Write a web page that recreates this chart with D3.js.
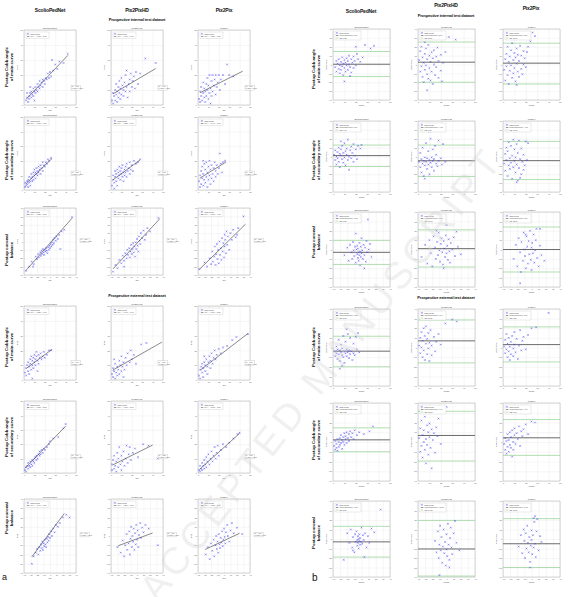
<!DOCTYPE html>
<html lang="en">
<head>
<meta charset="UTF-8">
<title>Postoperative prediction agreement</title>
<script src="https://cdn.jsdelivr.net/npm/d3@7"></script>
<style>
  body { margin: 0; background: #fff; }
  svg { font-family: "Liberation Sans", Arial, sans-serif; }
</style>
</head>
<body>
<script>
const width = 568, height = 597;

// ---------- labels ----------
const models = ["ScolioPedNet", "Pix2PixHD", "Pix2Pix"];
const datasetTitles = ["Prospective internal test dataset", "Prospective external test dataset"];
const rowLabels = [
  ["Postop Cobb angle", "of main curve"],
  ["Postop Cobb angle", "of secondary curve"],
  ["Postop coronal", "balance"],
  ["Postop Cobb angle", "of main curve"],
  ["Postop Cobb angle", "of secondary curve"],
  ["Postop coronal", "balance"]
];
const rowKind = ["angle", "angle", "balance", "angle", "angle", "balance"];
const angleTicks = [0, 10, 20, 30, 40, 50];
const balanceTicks = [-40, -30, -20, -10, 0, 10, 20, 30, 40];
const diffTicks = [-40, -30, -20, -10, 0, 10, 20, 30, 40];

// ---------- panel a: predicted vs actual (flat x,y pairs) ----------
const intMainSP = [2,3, 3,5, 4,2, 5,6, 5,4, 6,8, 7,5, 7,9, 8,7, 9,6, 9,11, 10,9, 11,8, 11,12, 12,10, 13,14, 13,9, 14,12, 15,11, 15,16, 16,13, 17,15, 18,12, 18,17, 19,16, 20,14, 21,18, 22,17, 23,21, 24,18, 25,22, 26,19, 27,30, 28,23, 30,27, 32,24, 34,29, 38,28, 42,34, 6,12, 10,3, 3,8];
const intMainHD = [1,3, 2,8, 2,1, 3,6, 4,10, 4,3, 5,7, 5,14, 6,2, 6,9, 7,5, 7,12, 8,8, 8,16, 9,4, 9,11, 10,7, 10,18, 11,13, 12,6, 12,10, 13,15, 14,9, 14,20, 15,12, 16,5, 17,14, 18,17, 18,9, 19,21, 20,12, 21,16, 22,19, 23,11, 24,22, 26,14, 28,21, 33,31, 43,28, 15,23];
const intMainPP = [1,4, 2,9, 2,2, 3,6, 3,12, 4,3, 5,8, 5,15, 6,5, 6,11, 7,2, 7,9, 8,14, 8,6, 9,18, 9,10, 10,4, 10,13, 11,8, 11,20, 12,11, 13,16, 13,6, 14,20, 14,9, 15,13, 16,17, 17,7, 17,20, 18,12, 19,15, 20,20, 21,10, 22,17, 24,20, 26,14, 28,27, 30,20, 34,19, 12,1];
const intSecSP = [1,2, 1,5, 2,3, 3,6, 3,4, 4,7, 4,2, 5,5, 5,9, 6,6, 6,3, 7,8, 7,11, 8,6, 8,9, 9,12, 9,7, 10,10, 10,14, 11,8, 11,12, 12,11, 12,15, 13,10, 13,13, 14,16, 14,12, 15,14, 16,11, 16,17, 17,15, 18,13, 18,19, 19,17, 20,16, 21,19, 22,18, 23,21, 24,20, 26,22];
const intSecHD = [1,3, 2,7, 2,10, 3,5, 4,9, 4,13, 5,6, 5,11, 6,3, 6,14, 7,8, 7,12, 8,10, 8,16, 9,7, 9,13, 10,11, 10,15, 11,9, 11,17, 12,12, 12,6, 13,14, 13,10, 14,16, 14,12, 15,9, 15,18, 16,13, 17,15, 18,11, 18,19, 19,14, 20,17, 21,13, 22,20, 24,18, 26,19, 28,21, 3,1];
const intSecPP = [1,6, 2,2, 2,10, 3,4, 3,13, 4,8, 4,16, 5,3, 5,11, 6,7, 6,18, 7,5, 7,14, 8,9, 8,19, 9,2, 9,12, 10,7, 10,16, 11,10, 11,20, 12,4, 12,14, 13,8, 13,17, 14,11, 15,6, 15,15, 16,19, 17,9, 17,13, 18,17, 19,11, 20,15, 21,25, 22,18, 23,12, 24,19, 26,20, 5,20];
const intBalSP = [-37,-35, -32,-30, -28,-24, -25,-27, -22,-18, -20,-21, -18,-15, -17,-19, -15,-13, -14,-17, -13,-11, -12,-15, -11,-9, -10,-13, -9,-16, -8,-10, -7,-12, -6,-8, -5,-11, -4,-14, -3,-7, -2,-10, -1,-5, 0,-8, 1,-3, 2,-6, 3,-1, 4,-4, 5,2, 6,-2, 7,4, 9,1, 10,6, 12,3, 14,8, 16,-9, 18,12, 22,14, 34,29, -26,-30];
const intBalHD = [-37,-36, -33,-28, -30,-32, -27,-22, -24,-26, -22,-17, -20,-23, -18,-14, -16,-20, -15,-10, -14,-16, -12,-8, -11,-19, -10,-12, -9,-4, -8,-15, -7,-9, -6,-2, -5,-13, -4,-6, -3,-18, -2,-1, -1,-9, 0,3, 1,-5, 2,-12, 3,6, 4,1, 5,-3, 6,10, 8,4, 10,13, 12,2, 14,8, 16,16, 20,12, 33,28, -20,-30];
const intBalPP = [-38,-33, -30,-25, -26,-30, -22,-20, -20,-27, -18,-12, -17,-24, -15,-18, -14,-6, -13,-28, -12,-15, -11,-3, -10,-21, -9,-10, -8,-26, -7,0, -6,-16, -5,-8, -4,-22, -3,4, -2,-12, -1,-2, 0,-19, 1,8, 1,-6, 2,2, 3,-14, 4,12, 5,-4, 6,6, 8,-10, 10,10, 12,2, 14,14, 18,5, 20,8, 30,30, 22,16];
const extMainSP = [1,5, 2,8, 2,3, 3,10, 4,6, 4,12, 5,9, 5,4, 6,11, 6,14, 7,7, 7,16, 8,10, 8,13, 9,15, 9,8, 10,12, 10,17, 11,14, 11,10, 12,16, 12,19, 13,13, 14,17, 14,11, 15,15, 16,18, 17,14, 18,16, 19,19, 20,15, 22,17, 24,20, 26,20, 8,1, 13,6];
const extMainHD = [1,4, 2,8, 2,2, 3,6, 4,11, 4,1, 5,5, 6,9, 6,3, 7,7, 8,13, 8,4, 9,10, 10,6, 10,16, 11,9, 12,12, 13,7, 14,15, 15,10, 16,18, 18,12, 19,20, 20,14, 22,17, 24,11, 29,24, 34,25, 3,14, 12,2];
const extMainPP = [1,3, 2,7, 2,1, 3,9, 4,5, 4,11, 5,2, 5,8, 6,12, 7,6, 7,10, 8,14, 9,4, 9,9, 10,12, 11,16, 12,8, 12,13, 13,18, 14,11, 15,15, 16,20, 17,14, 18,17, 20,21, 22,18, 24,22, 28,23, 33,27, 37,29, 48,31, 6,16];
const extSecSP = [1,2, 2,4, 2,1, 3,5, 4,3, 4,7, 5,5, 6,4, 6,8, 7,6, 8,9, 8,5, 9,8, 10,10, 10,7, 11,11, 12,9, 12,12, 13,10, 14,13, 15,12, 15,15, 16,13, 17,16, 18,14, 19,17, 20,16, 22,18, 24,20, 28,24, 33,25, 38,31, 40,34, 25,22];
const extSecHD = [1,2, 1,6, 2,9, 3,3, 3,12, 4,5, 5,8, 5,1, 6,14, 7,4, 7,10, 8,18, 9,6, 10,12, 10,2, 11,8, 12,15, 13,5, 14,10, 15,19, 16,7, 17,13, 18,18, 19,9, 21,14, 23,17, 26,11, 31,20, 36,19, 45,10];
const extSecPP = [1,2, 2,5, 2,1, 3,3, 4,7, 4,2, 5,5, 6,9, 6,3, 7,6, 8,11, 8,4, 9,8, 10,13, 11,6, 12,10, 13,15, 14,8, 15,12, 16,18, 17,10, 18,14, 19,19, 20,12, 22,16, 24,20, 27,18, 30,21, 34,24, 38,27, 40,28];
const extBalSP = [-28,-30, -25,-22, -22,-18, -20,-14, -18,-20, -17,-12, -15,-16, -14,-9, -13,-13, -12,-6, -11,-15, -10,-8, -9,-11, -8,-4, -7,-9, -6,-12, -5,-3, -4,-7, -3,-1, -2,-5, -1,2, 0,-2, 2,5, 3,0, 5,8, 7,4, 9,12, 12,10, 15,14, 20,20, 25,23, 30,20];
const extBalHD = [-30,-12, -25,-18, -22,-5, -20,-22, -18,-10, -16,2, -15,-15, -13,-8, -12,5, -11,-20, -10,-3, -9,10, -8,-12, -7,0, -6,-6, -5,8, -4,-15, -3,3, -2,-9, -1,12, 0,-4, 1,6, 2,-12, 3,1, 5,14, 6,-2, 8,9, 10,4, 13,12, 18,8, 32,-10];
const extBalPP = [-28,-20, -25,-12, -22,-25, -20,-8, -18,-16, -16,-4, -15,-22, -13,-10, -12,0, -11,-14, -10,-6, -9,-18, -8,2, -7,-9, -6,-13, -5,-2, -4,-7, -3,5, -2,-11, -1,-4, 0,8, 1,-1, 2,-8, 3,4, 5,12, 6,0, 8,-6, 10,6, 12,14, 15,3, 20,9, 28,2];

// regression fits (row-major, 3 models per row)
const fitSlope = [0.73, 0.41, 0.35, 0.69, 0.52, 0.44, 0.88, 0.83, 0.76, 0.52, 0.40, 0.54, 0.75, 0.36, 0.65, 0.94, 0.26, 0.33];
const fitIntercept = [2.3, 6.7, 7.5, 3.0, 6.0, 7.3, -2.0, -2.0, -4.5, 6.7, 6.0, 5.5, 2.5, 5.0, 1.5, 3.7, -3.0, -5.0];
const fitStart = [2, 2, 2, 1.6, 1.6, 1.6, -37, -37, -38, 2.6, 1.6, 2.2, 1, 1.6, 1.6, -28, -29, -29];
const fitEnd = [42, 43, 43, 27, 28, 27, 34, 35, 33, 27, 49, 48, 40, 40, 40, 22, 24, 24];
const r2Values = [0.78, 0.41, 0.33, 0.62, 0.38, 0.27, 0.81, 0.66, 0.52, 0.48, 0.29, 0.55, 0.79, 0.22, 0.58, 0.71, 0.09, 0.16];

// ---------- panel b: Bland-Altman (flat mean,difference pairs) ----------
const baIntMainSP = [2,-3, 3,4, 3,-8, 4,1, 5,-5, 5,6, 6,-1, 6,-10, 7,3, 7,-6, 8,8, 8,-2, 9,1, 9,-12, 10,5, 10,-4, 11,-8, 11,2, 12,7, 12,-1, 13,-6, 13,4, 14,10, 14,0, 15,-3, 16,6, 16,-9, 17,2, 18,9, 18,-4, 19,4, 20,-1, 21,12, 22,6, 24,3, 26,8, 28,22, 33,18, 36,21, 10,-19, 20,20, 15,-13];
const baIntMainHD = [1,5, 2,-8, 2,15, 3,-2, 3,20, 4,8, 4,-14, 5,2, 5,-20, 6,12, 6,-6, 7,18, 7,-1, 8,-11, 8,6, 9,22, 9,-16, 10,10, 10,-4, 11,3, 11,-18, 12,14, 12,-8, 13,7, 13,-22, 14,16, 14,0, 15,-12, 16,9, 16,-3, 17,19, 18,-15, 18,4, 20,11, 20,-7, 22,2, 24,14, 27,31, 33,28, 8,-29, 21,-19, 6,25];
const baIntMainPP = [1,-6, 2,6, 2,-18, 3,12, 3,-2, 4,20, 4,-12, 5,3, 5,-22, 6,9, 6,-7, 7,16, 7,-1, 8,-15, 8,24, 9,5, 9,-10, 10,13, 10,-4, 11,-19, 11,8, 12,1, 12,18, 13,-8, 13,11, 14,-14, 14,4, 15,21, 16,-5, 16,10, 17,-11, 18,15, 18,0, 19,7, 20,-3, 21,14, 22,20, 26,36, 28,32, 12,-23, 24,26];
const baIntSecSP = [1,2, 2,-4, 2,7, 3,0, 3,-9, 4,5, 4,-2, 5,10, 5,-6, 6,3, 6,-12, 7,1, 7,8, 8,-3, 8,12, 9,-7, 9,4, 10,-1, 10,15, 11,6, 11,-10, 12,2, 12,9, 13,-4, 13,19, 14,0, 14,-15, 15,7, 16,-2, 16,11, 17,4, 18,-6, 18,14, 19,1, 20,8, 21,-3, 22,12, 24,9, 25,13, 7,17];
const baIntSecHD = [1,-6, 2,-12, 2,4, 3,-3, 3,-18, 4,-8, 4,10, 5,-5, 5,-22, 6,-1, 6,-10, 7,15, 7,-6, 8,-14, 8,-2, 9,6, 9,-9, 10,-4, 10,-20, 11,-7, 11,20, 12,-1, 12,-12, 13,-5, 13,8, 14,-16, 14,-3, 15,12, 16,-8, 16,2, 17,-11, 18,-5, 18,18, 20,-2, 21,-9, 22,14, 24,-6, 10,28, 6,-25];
const baIntSecPP = [1,-8, 2,3, 2,-16, 3,10, 3,-4, 4,-22, 4,6, 5,-10, 5,16, 6,-2, 6,-14, 7,12, 7,-7, 8,-25, 8,1, 9,-12, 9,19, 10,-5, 10,8, 11,-18, 11,-1, 12,14, 12,-9, 13,-27, 13,4, 14,-13, 14,18, 15,-3, 16,-20, 16,9, 17,-6, 18,-15, 18,2, 19,-10, 20,17, 21,-4, 22,15, 12,-29, 15,-24];
const baIntBalSP = [-24,-6, -20,2, -18,-12, -16,5, -14,-3, -13,-10, -12,8, -11,-1, -10,-7, -9,3, -8,-14, -7,0, -6,-5, -6,4, -5,-9, -5,1, -4,-3, -4,-12, -3,-6, -3,7, -2,-2, -2,-17, -1,3, -1,-8, 0,-4, 0,12, 1,-1, 2,-10, 3,5, 4,-6, 5,2, 6,-13, 7,9, 8,-3, 9,32, 10,0, 12,6, 14,-8, -8,17, 4,-20];
const baIntBalHD = [-35,-8, -30,5, -27,-15, -24,10, -22,-4, -20,-18, -18,14, -16,2, -15,-10, -13,8, -12,-6, -11,18, -10,-1, -9,-13, -8,6, -7,12, -6,-3, -5,-16, -4,9, -3,1, -2,-8, -1,15, 0,-4, 0,26, 1,4, 2,-11, 3,11, 4,-2, 5,-14, 6,7, 8,0, 10,13, 12,-7, 14,19, 16,3, 20,-5, -14,20, -4,-20];
const baIntBalPP = [-25,-10, -22,5, -20,-18, -18,12, -16,-3, -15,-24, -14,8, -12,-12, -11,18, -10,0, -9,-7, -8,-20, -7,14, -6,3, -5,-15, -4,9, -3,-5, -2,20, -1,-11, 0,2, 0,-22, 1,7, 2,-4, 3,16, 4,-14, 5,-1, 6,10, 8,-9, 10,-18, 12,4, 14,-6, 18,-12, 7,22, 12,22, -16,-36, -8,16];
const baExtMainSP = [2,-4, 2,-9, 3,1, 3,-6, 4,-12, 4,-2, 5,-7, 5,8, 6,-3, 6,-14, 7,-5, 7,3, 8,-8, 8,-1, 9,-10, 9,12, 10,-4, 10,-16, 11,-6, 11,6, 12,-2, 12,-9, 13,-5, 13,14, 14,-11, 14,-3, 15,-7, 15,10, 16,-4, 17,-13, 18,-6, 18,4, 19,-8, 20,11, 21,-2, 22,15, 23,-5, 12,19, 8,-19, 6,-22];
const baExtMainHD = [1,2, 2,10, 2,-6, 3,16, 3,0, 4,-10, 4,7, 5,20, 5,-3, 6,12, 6,-13, 7,4, 7,22, 8,-7, 8,9, 9,15, 9,-1, 10,5, 10,-14, 11,18, 12,2, 12,-8, 14,11, 15,-4, 16,6, 18,14, 20,3, 24,25, 30,29, 34,27];
const baExtMainPP = [1,1, 2,-6, 2,8, 3,-2, 3,14, 4,4, 4,-10, 5,-4, 5,10, 6,1, 6,-13, 7,6, 7,-7, 8,12, 9,-1, 9,-9, 10,16, 10,3, 11,-5, 12,9, 13,-12, 14,2, 15,18, 16,-3, 17,7, 18,11, 20,-2, 22,13, 25,20, 29,21, 40,36];
const baExtSecSP = [1,-4, 2,-8, 2,1, 3,-2, 3,-6, 4,3, 4,-9, 5,0, 5,-5, 6,4, 6,-3, 7,7, 7,-1, 8,2, 8,-7, 9,5, 9,0, 10,9, 10,-3, 11,3, 11,6, 12,-1, 12,10, 13,4, 14,8, 14,1, 15,11, 16,5, 17,9, 18,3, 19,12, 21,7, 23,10, 27,8, 32,11, 35,16];
const baExtSecHD = [1,4, 2,-10, 2,14, 3,-4, 3,22, 4,7, 4,-16, 5,0, 5,12, 6,-8, 6,26, 7,3, 7,-22, 8,17, 8,-3, 9,10, 9,-13, 10,5, 10,19, 11,-6, 12,13, 12,-27, 13,2, 14,9, 15,-11, 16,15, 17,6, 18,24, 20,-2, 22,35, 25,36, 14,30];
const baExtSecPP = [1,-2, 2,-8, 2,4, 3,-12, 3,1, 4,-5, 4,8, 5,-10, 5,2, 6,-3, 6,10, 7,-6, 7,5, 8,-15, 8,12, 9,0, 9,-8, 10,7, 10,14, 11,-2, 12,9, 13,3, 14,16, 15,-4, 16,11, 17,6, 18,13, 20,18, 22,8, 25,21, 28,20];
const baExtBalSP = [-25,-22, -20,6, -17,-4, -15,10, -13,-9, -12,2, -10,-14, -9,5, -8,-3, -7,8, -6,-1, -6,-7, -5,3, -5,-4, -4,0, -4,-10, -3,-2, -3,5, -2,-6, -2,1, -1,-3, 0,12, 1,-5, 2,4, 3,-1, 5,6, 7,-9, 9,3, 11,-4, 14,11, 18,7, 27,31, -12,-12, 4,-19];
const baExtBalHD = [-16,-2, -14,-14, -12,8, -11,-20, -10,-6, -9,14, -8,-12, -7,2, -6,-25, -5,-8, -4,10, -3,-15, -2,-3, -1,-28, 0,5, 0,-11, 1,-18, 2,16, 3,-6, 4,-22, 5,1, 6,12, 7,-9, 8,-16, 10,6, 12,19, 14,-4, 18,-12, -10,-38, 4,-30];
const baExtBalPP = [-18,-8, -15,4, -13,-15, -11,10, -10,-2, -9,-20, -8,6, -7,-10, -6,14, -5,-4, -4,-14, -3,2, -2,-24, -1,-7, 0,9, 0,-1, 1,-16, 2,4, 3,-9, 4,18, 5,-5, 6,-19, 7,8, 8,21, 10,-12, 12,3, 14,-3, -2,-30, 3,22, 5,24];

const baMean  = [0.3, 2.6, 1.5, 1.0, -4.8, -4.7, -3.0, 0.9, 0.0, -3.8, 6.9, 3.0, 2.2, 6.7, 4.3, -3.0, -10.5, -5.0];
const baUpper = [14.7, 25.3, 24.0, 12.9, 12.9, 17.0, 9.8, 21.0, 24.0, 11.7, 28.6, 21.4, 14.5, 31.5, 23.0, 13.3, 19.6, 21.4];
const baLower = [-13.6, -20.0, -22.0, -11.3, -22.5, -26.0, -15.9, -18.7, -24.0, -20.0, -16.0, -15.0, -10.0, -19.5, -13.7, -19.0, -39.0, -30.0];

// tables built from the arrays above
const scatterSets = [intMainSP, intMainHD, intMainPP, intSecSP, intSecHD, intSecPP, intBalSP, intBalHD, intBalPP,
  extMainSP, extMainHD, extMainPP, extSecSP, extSecHD, extSecPP, extBalSP, extBalHD, extBalPP];
const baSets = [baIntMainSP, baIntMainHD, baIntMainPP, baIntSecSP, baIntSecHD, baIntSecPP, baIntBalSP, baIntBalHD, baIntBalPP,
  baExtMainSP, baExtMainHD, baExtMainPP, baExtSecSP, baExtSecHD, baExtSecPP, baExtBalSP, baExtBalHD, baExtBalPP];
const toPairs = flat => d3.range(0, flat.length, 2).map(i => [flat[i], flat[i + 1]]);

// ---------- layout ----------
const leftColX = [24, 111, 198], leftW = 52;
const leftRowTop = [30, 117, 208, 306, 401, 499];
const leftRowH = [75, 73, 67, 74, 72, 74];
const rightColX = [333, 418, 503], rightW = 57;
const rightRowTop = [29, 121, 212, 309, 403, 501];
const rightRowH = [71, 71, 75, 77, 78, 76];

const pointColor = "#3a3af2";
const marker = d3.symbol(d3.symbolTimes, 2.2);

const svg = d3.select("body").append("svg")
    .attr("width", width)
    .attr("height", height);

function axes(g, x, y, xt, yt, w, h) {
    // grid
    g.append("g").attr("transform", `translate(0,${h})`)
        .call(d3.axisBottom(x).tickValues(xt).tickSize(-h).tickFormat(""))
        .call(s => s.select(".domain").remove())
        .selectAll("line").attr("stroke", "#e2e2e2").attr("stroke-width", 0.3);
    g.append("g")
        .call(d3.axisLeft(y).tickValues(yt).tickSize(-w).tickFormat(""))
        .call(s => s.select(".domain").remove())
        .selectAll("line").attr("stroke", "#e2e2e2").attr("stroke-width", 0.3);
    // tick labels
    g.append("g").attr("transform", `translate(0,${h})`)
        .call(d3.axisBottom(x).tickValues(xt).tickSize(0).tickPadding(1.2))
        .call(s => s.select(".domain").remove())
        .selectAll("text").attr("font-size", 2.1).attr("fill", "#555");
    g.append("g")
        .call(d3.axisLeft(y).tickValues(yt).tickSize(0).tickPadding(1.2))
        .call(s => s.select(".domain").remove())
        .selectAll("text").attr("font-size", 2.1).attr("fill", "#555");
    g.append("rect").attr("width", w).attr("height", h)
        .attr("fill", "none").attr("stroke", "#9a9a9a").attr("stroke-width", 0.4);
}

function tiny(g, x, y, txt, size, anchor) {
    return g.append("text").attr("x", x).attr("y", y)
        .attr("text-anchor", anchor || "start")
        .attr("font-size", size).attr("fill", "#444").text(txt);
}

function drawScatter(r, c) {
    const idx = r * 3 + c;
    const w = leftW, h = leftRowH[r];
    const bal = rowKind[r] === "balance";
    const dom = bal ? [-40, 40] : [0, 50];
    const ticks = bal ? balanceTicks : angleTicks;
    const g = svg.append("g").attr("transform", `translate(${leftColX[c]},${leftRowTop[r]})`);
    const x = d3.scaleLinear().domain(dom).range([0, w]);
    const y = d3.scaleLinear().domain(dom).range([h, 0]);
    g.append("rect").attr("width", w).attr("height", h).attr("fill", "#fff");
    axes(g, x, y, ticks, ticks, w, h);

    g.selectAll("path.pt").data(toPairs(scatterSets[idx])).join("path")
        .attr("class", "pt")
        .attr("d", marker)
        .attr("transform", d => `translate(${x(d[0])},${y(d[1])})`)
        .attr("fill", "none").attr("stroke", pointColor).attr("stroke-width", 0.45);

    const fx = [fitStart[idx], fitEnd[idx]];
    g.append("line")
        .attr("x1", x(fx[0])).attr("y1", y(fitSlope[idx] * fx[0] + fitIntercept[idx]))
        .attr("x2", x(fx[1])).attr("y2", y(fitSlope[idx] * fx[1] + fitIntercept[idx]))
        .attr("stroke", "#3a3a3a").attr("stroke-width", 0.6);

    // legend
    const b = fitIntercept[idx];
    g.append("rect").attr("x", 2).attr("y", 2).attr("width", 23).attr("height", 6.5)
        .attr("fill", "#fff").attr("stroke", "#bbb").attr("stroke-width", 0.3);
    g.append("path").attr("d", marker).attr("transform", "translate(4,3.9)")
        .attr("fill", "none").attr("stroke", pointColor).attr("stroke-width", 0.4);
    tiny(g, 6.5, 4.6, "Data points", 1.8);
    g.append("line").attr("x1", 3).attr("x2", 5.4).attr("y1", 6.5).attr("y2", 6.5)
        .attr("stroke", "#3a3a3a").attr("stroke-width", 0.5);
    tiny(g, 6.5, 7.2, `Fit: y = ${fitSlope[idx].toFixed(2)}x ${b < 0 ? "−" : "+"} ${Math.abs(b).toFixed(2)}`, 1.8);

    // R² box
    const bx = bal ? w + 4 : w - 5;
    const by = h * (bal ? 0.45 : 0.74);
    g.append("rect").attr("x", bx).attr("y", by).attr("width", 9.5).attr("height", 4.6)
        .attr("fill", "#fff").attr("stroke", "#aaa").attr("stroke-width", 0.3);
    tiny(g, bx + 0.8, by + 1.9, `R² = ${r2Values[idx].toFixed(2)}`, 1.6);
    tiny(g, bx + 0.8, by + 3.8, "p-value < 0.001", 1.6);

    tiny(g, w / 2, -1.2, models[c], 2.3, "middle");
    tiny(g, w / 2, h + 5.6, "GT", 2.2, "middle");
    g.append("text").attr("transform", `translate(-6.2,${h / 2}) rotate(-90)`)
        .attr("text-anchor", "middle").attr("font-size", 2.2).attr("fill", "#444").text("Pred");
}

function drawBA(r, c) {
    const idx = r * 3 + c;
    const w = rightW, h = rightRowH[r];
    const bal = rowKind[r] === "balance";
    const xt = bal ? balanceTicks : angleTicks;
    const g = svg.append("g").attr("transform", `translate(${rightColX[c]},${rightRowTop[r]})`);
    const x = d3.scaleLinear().domain(bal ? [-40, 40] : [0, 50]).range([0, w]);
    const y = d3.scaleLinear().domain([-40, 40]).range([h, 0]);
    g.append("rect").attr("width", w).attr("height", h).attr("fill", "#fff");
    axes(g, x, y, xt, diffTicks, w, h);

    [baUpper[idx], baLower[idx]].forEach(v => {
        g.append("line").attr("x1", 0).attr("x2", w).attr("y1", y(v)).attr("y2", y(v))
            .attr("stroke", "#8fd08f").attr("stroke-width", 0.7);
    });
    g.append("line").attr("x1", 0).attr("x2", w).attr("y1", y(baMean[idx])).attr("y2", y(baMean[idx]))
        .attr("stroke", "#6a6a6a").attr("stroke-width", 1);

    g.selectAll("path.pt").data(toPairs(baSets[idx])).join("path")
        .attr("class", "pt")
        .attr("d", marker)
        .attr("transform", d => `translate(${x(d[0])},${y(d[1])})`)
        .attr("fill", "none").attr("stroke", pointColor).attr("stroke-width", 0.45);

    const sd = (baUpper[idx] - baLower[idx]) / 3.92;
    g.append("rect").attr("x", 2).attr("y", 2).attr("width", 26).attr("height", 9)
        .attr("fill", "#fff").attr("stroke", "#bbb").attr("stroke-width", 0.3);
    g.append("path").attr("d", marker).attr("transform", "translate(4,3.9)")
        .attr("fill", "none").attr("stroke", pointColor).attr("stroke-width", 0.4);
    tiny(g, 6.5, 4.6, "Data points", 1.8);
    g.append("line").attr("x1", 3).attr("x2", 5.4).attr("y1", 6.5).attr("y2", 6.5)
        .attr("stroke", "#6a6a6a").attr("stroke-width", 0.7);
    tiny(g, 6.5, 7.2, `Mean Difference: ${baMean[idx].toFixed(2)}`, 1.8);
    g.append("line").attr("x1", 3).attr("x2", 5.4).attr("y1", 9.1).attr("y2", 9.1)
        .attr("stroke", "#8fd08f").attr("stroke-width", 0.6);
    tiny(g, 6.5, 9.8, `SD: ${sd.toFixed(2)}`, 1.8);

    tiny(g, w / 2, -1.2, models[c], 2.3, "middle");
    tiny(g, w / 2, h + 5.6, "Mean", 2.2, "middle");
    g.append("text").attr("transform", `translate(-6.2,${h / 2}) rotate(-90)`)
        .attr("text-anchor", "middle").attr("font-size", 2.2).attr("fill", "#444").text("Difference");
}

for (let r = 0; r < 6; r++) {
    for (let c = 0; c < 3; c++) {
        drawScatter(r, c);
        drawBA(r, c);
    }
}

// ---------- headers and row labels ----------
function bold(x, y, txt, size) {
    return svg.append("text").attr("x", x).attr("y", y)
        .attr("text-anchor", "middle").style("font-weight", "bold")
        .style("font-size", size + "px").style("letter-spacing", "-0.15px")
        .attr("fill", "#111").text(txt);
}

bold(50, 12, models[0], 5);
bold(137, 12, models[1], 5);
bold(224, 12, models[2], 5);
bold(137, 21, datasetTitles[0], 4);
bold(137, 297, datasetTitles[1], 4);

bold(361, 13, models[0], 5);
bold(446, 7, models[1], 5);
bold(531, 10, models[2], 5);
bold(446, 17, datasetTitles[0], 4);
bold(446, 299, datasetTitles[1], 4);

const leftLabelY = [67, 160, 250, 347, 437, 518];
const rightLabelY = [69, 160, 242, 347, 440, 533];

function rowLabel(x, y, lines) {
    const t = svg.append("text")
        .attr("transform", `translate(${x},${y}) rotate(-90)`)
        .attr("text-anchor", "middle")
        .style("font-weight", "bold").style("font-size", "4.4px")
        .attr("fill", "#111");
    lines.forEach((s, i) => {
        t.append("tspan").attr("x", 0).attr("dy", i === 0 ? "0em" : "1.05em").text(s);
    });
}
rowLabels.forEach((lines, r) => {
    rowLabel(8, leftLabelY[r], lines);
    rowLabel(315, rightLabelY[r], lines);
});

svg.append("text").attr("x", 2).attr("y", 580).style("font-size", "9px").attr("fill", "#111").text("a");
svg.append("text").attr("x", 312).attr("y", 581).style("font-size", "10px").attr("fill", "#111").text("b");

// faint watermark laid over the figure
svg.append("text")
    .attr("transform", "translate(158,604) rotate(-52)")
    .style("font-size", "38px")
    .style("letter-spacing", "5px")
    .attr("fill", "#d4d4d4")
    .attr("fill-opacity", 0.35)
    .style("pointer-events", "none")
    .text("ACCEPTED MANUSCRIPT");
</script>
</body>
</html>
